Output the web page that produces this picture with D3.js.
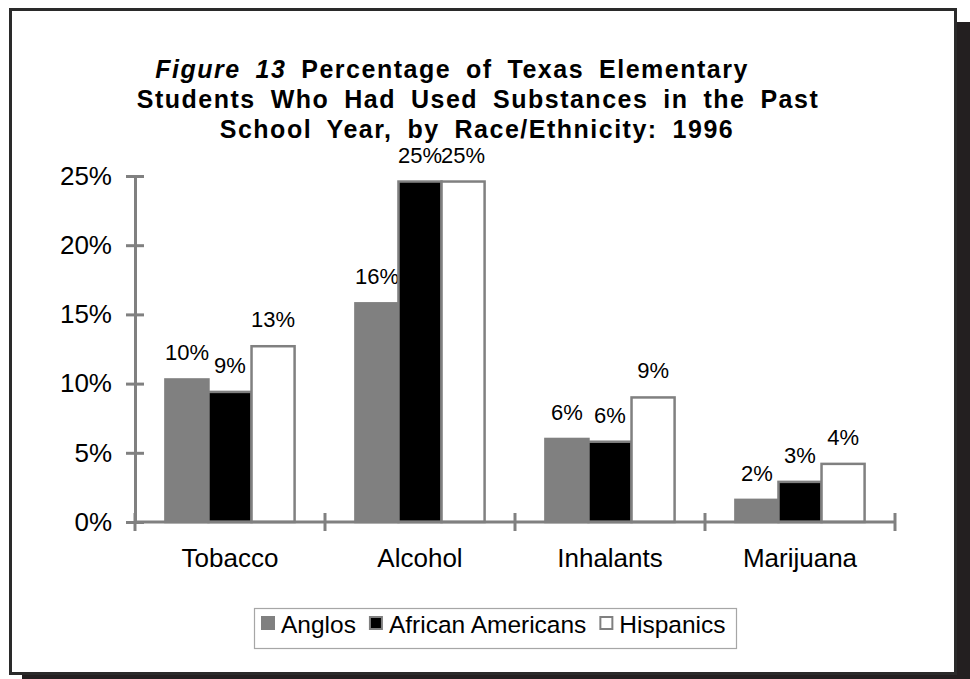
<!DOCTYPE html>
<html>
<head>
<meta charset="utf-8">
<script src="https://cdn.jsdelivr.net/npm/d3@7"></script>
<style>
  body { margin: 0; background: #fff; }
  text { font-family: "Liberation Sans", Arial, Helvetica, sans-serif; fill: #000; }
</style>
</head>
<body>
<svg id="chart" width="970" height="679"></svg>
<script>
// Substance use by race/ethnicity, Texas elementary students, 1996 (percent)
const categories = ["Tobacco", "Alcohol", "Inhalants", "Marijuana"];
const seriesNames = ["Anglos", "African Americans", "Hispanics"];
const anglos = [10.3, 15.8, 6.0, 1.6];
const africanAmericans = [9.4, 24.6, 5.8, 2.9];
const hispanics = [12.7, 24.6, 9.0, 4.2];
const yTicks = [0, 5, 10, 15, 20, 25];

const seriesValues = [anglos, africanAmericans, hispanics];
const seriesFill = ["#808080", "#000000", "#ffffff"];
const gray = "#808080";

const svg = d3.select("#chart");

// Card with drop shadow
svg.append("rect").attr("x", 22).attr("y", 22).attr("width", 948).attr("height", 670).attr("fill", "#231f20");
svg.append("rect").attr("x", 10.5).attr("y", 9.5).attr("width", 945).attr("height", 664)
  .attr("fill", "#fff").attr("stroke", "#2a2a2a").attr("stroke-width", 3);

// Title
const title = svg.append("text").attr("text-anchor", "middle")
  .style("font-weight", "bold").style("font-size", "25px")
  .style("letter-spacing", "1.5px").style("word-spacing", "6.5px");
const t1 = title.append("tspan").attr("x", 452).attr("y", 78);
t1.append("tspan").style("font-style", "italic").text("Figure 13");
t1.append("tspan").text("  Percentage of Texas Elementary");
title.append("tspan").attr("x", 478).attr("y", 108).text("Students Who Had Used Substances in the Past");
title.append("tspan").attr("x", 477).attr("y", 138).text("School Year, by Race/Ethnicity: 1996");

// Scales
const y = d3.scaleLinear().domain([0, 25]).range([522, 176]);
const x = d3.scaleBand().domain(categories).range([135, 895]).paddingInner(0).paddingOuter(0);
const xs = d3.scaleBand().domain(seriesNames)
  .range([x.bandwidth() * 0.16, x.bandwidth() * 0.84]).paddingInner(0);

// Bars with value labels
seriesNames.forEach((name, si) => {
  const g = svg.append("g");
  g.selectAll("rect").data(seriesValues[si]).join("rect")
    .attr("x", (d, i) => x(categories[i]) + xs(name))
    .attr("y", d => y(d))
    .attr("width", xs.bandwidth())
    .attr("height", d => y(0) - y(d))
    .attr("fill", seriesFill[si])
    .attr("stroke", gray).attr("stroke-width", 2.5);
  g.selectAll("text").data(seriesValues[si]).join("text")
    .attr("x", (d, i) => x(categories[i]) + xs(name) + xs.bandwidth() / 2)
    .attr("y", d => y(d) - 19)
    .attr("text-anchor", "middle")
    .style("font-size", "22px")
    .text(d => Math.round(d) + "%");
});

// Y axis (ticks cross the axis line)
const yAxis = svg.append("g").attr("transform", "translate(135,0)")
  .call(d3.axisLeft(y).tickValues(yTicks).tickSize(9).tickSizeOuter(0).tickPadding(14)
    .tickFormat(d => d + "%"));
yAxis.select(".domain").attr("stroke", gray).attr("stroke-width", 3);
yAxis.selectAll(".tick line").attr("x1", 9).attr("stroke", gray).attr("stroke-width", 3);
yAxis.selectAll(".tick text").style("font-size", "26px")
  .style("font-family", '"Liberation Sans", Arial, sans-serif').attr("fill", "#000");

// X axis with category boundary ticks
const xAxis = svg.append("g");
xAxis.append("line").attr("x1", x.range()[0]).attr("x2", x.range()[1])
  .attr("y1", y(0)).attr("y2", y(0)).attr("stroke", gray).attr("stroke-width", 3);
const bounds = categories.map(c => x(c)).concat([x.range()[1]]);
xAxis.selectAll("line.tk").data(bounds).join("line").attr("class", "tk")
  .attr("x1", d => d).attr("x2", d => d).attr("y1", y(0) - 9).attr("y2", y(0) + 9)
  .attr("stroke", gray).attr("stroke-width", 3);
xAxis.selectAll("text").data(categories).join("text")
  .attr("x", d => x(d) + x.bandwidth() / 2).attr("y", 567)
  .attr("text-anchor", "middle").style("font-size", "26px").text(d => d);

// Legend
const legend = svg.append("g");
legend.append("rect").attr("x", 254.5).attr("y", 608.5).attr("width", 482).attr("height", 40)
  .attr("fill", "#fff").attr("stroke", "#a6a6a6").attr("stroke-width", 1.2);
let lx = 261;
seriesNames.forEach((name, si) => {
  legend.append("rect").attr("x", lx + 1).attr("y", 617).attr("width", 12).attr("height", 12)
    .attr("fill", seriesFill[si]).attr("stroke", gray).attr("stroke-width", 2);
  const t = legend.append("text").attr("x", lx + 20).attr("y", 633)
    .style("font-size", "24.5px").text(name);
  lx = lx + 20 + t.node().getComputedTextLength() + 13;
});
</script>
</body>
</html>
